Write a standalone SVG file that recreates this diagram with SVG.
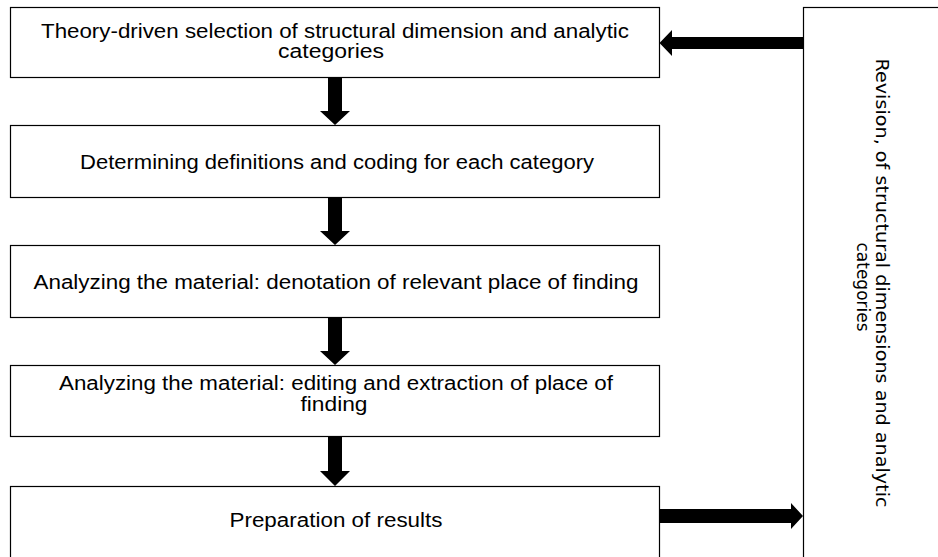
<svg xmlns="http://www.w3.org/2000/svg" width="938" height="557" viewBox="0 0 938 557">
<style>
.box{fill:#fff;stroke:#000;stroke-width:1.2}
.t{font-family:"Liberation Sans",Arial,sans-serif;font-size:20px;fill:#000;text-anchor:middle}
.v{font-family:"DejaVu Sans","Verdana",sans-serif;font-size:17px;fill:#000;text-anchor:middle}
.arr{fill:#000}
</style>
<rect width="938" height="557" fill="#fff"/>
<g id="n1">
<rect class="box" x="10.5" y="7.5" width="649" height="70"/>
<text class="t" x="335" y="38" textLength="588" lengthAdjust="spacingAndGlyphs">Theory-driven selection of structural dimension and analytic</text>
<text class="t" x="331" y="58" textLength="106" lengthAdjust="spacingAndGlyphs">categories</text>
</g>
<g id="n2">
<rect class="box" x="10.5" y="125.5" width="649" height="72"/>
<text class="t" x="337" y="169" textLength="514" lengthAdjust="spacingAndGlyphs">Determining definitions and coding for each category</text>
</g>
<g id="n3">
<rect class="box" x="10.5" y="245.5" width="649" height="72"/>
<text class="t" x="336" y="289" textLength="605" lengthAdjust="spacingAndGlyphs">Analyzing the material: denotation of relevant place of finding</text>
</g>
<g id="n4">
<rect class="box" x="10.5" y="365.5" width="649" height="71"/>
<text class="t" x="336" y="390" textLength="554" lengthAdjust="spacingAndGlyphs">Analyzing the material: editing and extraction of place of</text>
<text class="t" x="334" y="411" textLength="67" lengthAdjust="spacingAndGlyphs">finding</text>
</g>
<g id="n5">
<rect class="box" x="10.5" y="486.5" width="649" height="80"/>
<text class="t" x="336" y="527" textLength="213" lengthAdjust="spacingAndGlyphs">Preparation of results</text>
</g>
<g id="n6">
<rect class="box" x="803.5" y="7.5" width="150" height="560"/>
<g transform="translate(876,283) rotate(90)">
<text class="v" x="0" y="0" textLength="449" lengthAdjust="spacingAndGlyphs">Revision, of structural dimensions and analytic</text>
<text class="v" x="4" y="19">categories</text>
</g>
</g>
<g id="connectors">
<polygon class="arr" points="328,77 342,77 342,111 350,111 335,125 320,111 328,111"/>
<polygon class="arr" points="328,197 342,197 342,231 350,231 335,245 320,231 328,231"/>
<polygon class="arr" points="328,317 342,317 342,351 350,351 335,365 320,351 328,351"/>
<polygon class="arr" points="328,437 342,437 342,471 350,471 335,486 320,471 328,471"/>
<polygon class="arr" points="803,37 672,37 672,30 659.5,43 672,56 672,49 803,49"/>
<polygon class="arr" points="660,509 791,509 791,503 803,516 791,529 791,523 660,523"/>
</g>
</svg>
